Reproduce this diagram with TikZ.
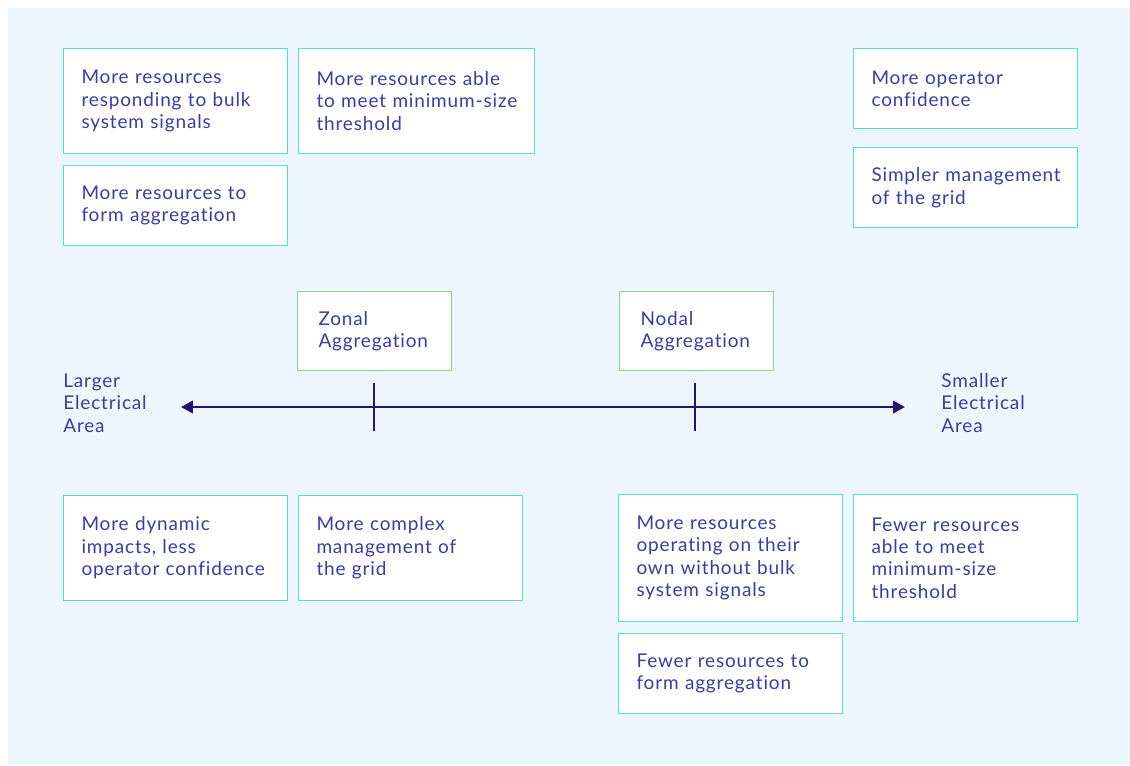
\documentclass[tikz,border=0pt]{standalone}
\usepackage{fontspec}
\setmainfont{Lato}[LetterSpace=4.5, Ligatures={NoCommon}]
\usetikzlibrary{arrows.meta,positioning}
\definecolor{panel}{HTML}{EEF6FD}
\definecolor{cardline}{HTML}{5FD8D8}
\definecolor{aggline}{HTML}{8ED08E}
\definecolor{ink}{HTML}{3A3F96}
\definecolor{axisblue}{HTML}{241470}
\tikzset{
	card/.style={draw=cardline, fill=white, line width=0.6pt, text=ink, align=left,
		anchor=north west, inner xsep=0.36cm, inner ysep=0pt, minimum width=4.48cm,
		text width=3.76cm, font=\fontsize{10.8}{12.8}\selectfont},
	aggbox/.style={card, draw=aggline, minimum width=3.08cm, minimum height=1.58cm,
		inner xsep=0.42cm, text width=2.24cm},
	arealabel/.style={text=ink, align=left, anchor=west, inner sep=0pt,
		font=\fontsize{10.8}{12.8}\selectfont},
	axisline/.style={draw=axisblue, line width=1.5pt},
}

\begin{document}
\begin{tikzpicture}[x=0.02cm, y=-0.02cm]
		%%%%% START %%%%%
		
		\useasboundingbox (0, 0) rectangle (1130, 765);
		\fill[panel] (8, 8) rectangle (1130, 765);
		
		% larger area side, top
		\node[card, minimum height=2.1cm] (morebulk) at (63, 48) {More resources\\responding to bulk\\system signals};
		\node[card, minimum height=2.1cm, minimum width=4.72cm, text width=4.0cm] (moremin) at (298, 48) {More resources able\\\mbox{to meet minimum-size}\\threshold};
		\node[card, minimum height=1.6cm] (moreagg) at (63, 165) {More resources to\\form aggregation};
		
		% smaller area side, top
		\node[card, minimum height=1.6cm] (moreconf) at (853, 48) {More operator\\confidence};
		\node[card, minimum height=1.6cm] (simpler) at (853, 147) {\mbox{Simpler management}\\of the grid};
		
		% aggregation levels
		\node[aggbox] (zonal) at (297, 291) {Zonal\\Aggregation};
		\node[aggbox] (nodal) at (619, 291) {Nodal\\Aggregation};
		
		% axis
		\node[arealabel] (larger) at (63, 403) {Larger\\Electrical\\Area};
		\node[arealabel] (smaller) at (941, 403) {Smaller\\Electrical\\Area};
		\coordinate (axisleft) at (181, 407);
		\coordinate (axisright) at (905, 407);
		\draw[axisline, {Triangle[length=0.24cm, width=0.25cm]}-{Triangle[length=0.24cm, width=0.25cm]}] (axisleft) -- (axisright);
		\draw[axisline] (374, 383) -- (374, 431);
		\draw[axisline] (695, 383) -- (695, 431);
		
		% larger area side, bottom
		\node[card, minimum height=2.1cm] (moredyn) at (63, 495) {More dynamic\\impacts, less\\\mbox{operator confidence}};
		\node[card, minimum height=2.1cm, minimum width=4.46cm] (morecomplex) at (298, 495) {More complex\\management of\\the grid};
		
		% smaller area side, bottom
		\node[card, minimum height=2.54cm] (ownway) at (618, 494) {More resources\\operating on their\\own without bulk\\system signals};
		\node[card, minimum height=2.54cm] (fewermin) at (853, 494) {Fewer resources\\able to meet\\minimum-size\\threshold};
		\node[card, minimum height=1.6cm] (feweragg) at (618, 633) {Fewer resources to\\form aggregation};
		
		%%%%% END %%%%%
	\end{tikzpicture}
\end{document}
